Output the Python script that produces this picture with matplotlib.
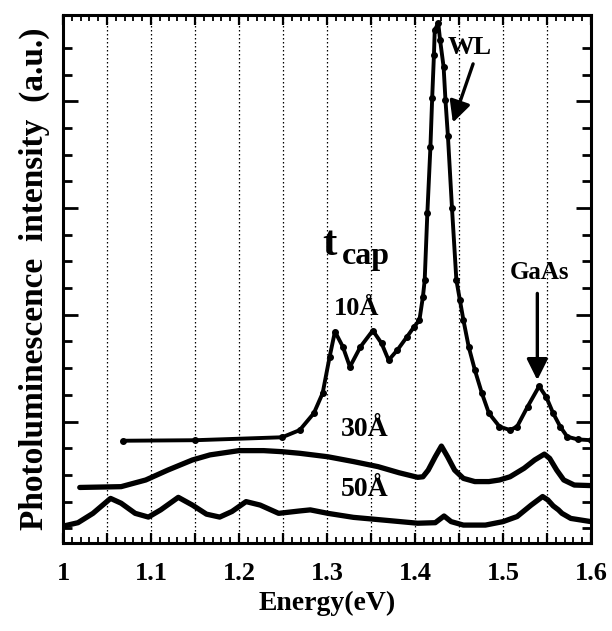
import matplotlib
matplotlib.use("Agg")
import matplotlib.pyplot as plt
from matplotlib.ticker import MultipleLocator, FixedLocator, FuncFormatter

plt.rcParams['font.family'] = ['Liberation Serif', 'DejaVu Serif']
plt.rcParams['font.weight'] = 'bold'

# PL spectra (energy in eV, intensity in a.u.)
e_10 = [1.068, 1.15, 1.249, 1.269, 1.285, 1.295, 1.303, 1.309, 1.318, 1.326,
        1.338, 1.352, 1.362, 1.370, 1.380, 1.391, 1.399, 1.405, 1.409, 1.411,
        1.414, 1.4175, 1.4195, 1.4215, 1.4224, 1.4264, 1.4285, 1.4325, 1.4346,
        1.4374, 1.442, 1.447, 1.451, 1.455, 1.461, 1.468, 1.476, 1.484, 1.496,
        1.508, 1.516, 1.528, 1.541, 1.549, 1.557, 1.565, 1.573, 1.585, 1.60]
i_10 = [3.28, 3.30, 3.41, 3.68, 4.31, 5.06, 6.43, 7.37, 6.80, 6.05,
        6.80, 7.41, 6.93, 6.30, 6.68, 7.18, 7.55, 7.80, 8.68, 9.30,
        11.8, 14.28, 16.12, 17.73, 18.66, 18.93, 18.29, 17.28, 16.04,
        14.69, 12.0, 9.30, 8.55, 7.80, 6.80, 5.93, 5.06, 4.31, 3.81,
        3.68, 3.81, 4.56, 5.32, 4.93, 4.31, 3.81, 3.43, 3.33, 3.30]

e_30 = [1.019, 1.066, 1.094, 1.119, 1.147, 1.167, 1.200, 1.228, 1.249, 1.269,
        1.301, 1.330, 1.358, 1.382, 1.403, 1.409, 1.415, 1.423, 1.430, 1.437,
        1.445, 1.455, 1.468, 1.484, 1.496, 1.508, 1.524, 1.536, 1.547, 1.553,
        1.561, 1.569, 1.581, 1.60]
i_30 = [1.53, 1.56, 1.81, 2.18, 2.56, 2.75, 2.91, 2.91, 2.87, 2.81,
        2.68, 2.50, 2.31, 2.08, 1.91, 1.93, 2.18, 2.68, 3.08, 2.68,
        2.18, 1.87, 1.75, 1.75, 1.81, 1.93, 2.25, 2.56, 2.78, 2.62,
        2.18, 1.81, 1.62, 1.60]

e_50 = [1.000, 1.017, 1.034, 1.054, 1.066, 1.082, 1.097, 1.111, 1.131, 1.147,
        1.163, 1.178, 1.192, 1.208, 1.224, 1.245, 1.269, 1.281, 1.301, 1.330,
        1.370, 1.403, 1.423, 1.433, 1.441, 1.455, 1.480, 1.500, 1.516, 1.532,
        1.545, 1.551, 1.557, 1.563, 1.567, 1.577, 1.60]
i_50 = [0.08, 0.21, 0.56, 1.12, 0.94, 0.56, 0.42, 0.69, 1.16, 0.87,
        0.53, 0.42, 0.63, 1.00, 0.87, 0.56, 0.65, 0.69, 0.56, 0.41,
        0.29, 0.19, 0.21, 0.46, 0.25, 0.12, 0.12, 0.25, 0.44, 0.87,
        1.19, 1.06, 0.84, 0.69, 0.56, 0.37, 0.25]

fig = plt.figure(figsize=(6.12, 6.31), dpi=100)
ax = fig.add_axes([0.103, 0.1395, 0.8627, 0.8367])

ax.plot(e_10, i_10, color='black', lw=2.8, marker='o', ms=4, solid_capstyle='round')
ax.plot(e_30, i_30, color='black', lw=3.8, solid_capstyle='round')
ax.plot(e_50, i_50, color='black', lw=3.8, solid_capstyle='round')

ax.set_xlim(1.0, 1.6)
ax.set_ylim(-0.55, 19.23)

# ticks
ax.xaxis.set_major_locator(MultipleLocator(0.05))
ax.xaxis.set_minor_locator(MultipleLocator(0.01))
def xfmt(v, pos):
    k = round(v * 20)
    if k % 2:
        return ''
    return '1' if abs(v - 1) < 1e-6 else '%.1f' % v
ax.xaxis.set_major_formatter(FuncFormatter(xfmt))
ax.yaxis.set_major_locator(FixedLocator([4, 8, 12, 16]))
ax.yaxis.set_minor_locator(FixedLocator([0, 1, 2, 3, 5, 6, 7, 9, 10, 11, 13, 14, 15, 17, 18]))
ax.tick_params(axis='both', which='both', direction='in', top=True, right=True, color='black')
ax.tick_params(axis='x', which='major', length=7, width=1.6, labelsize=19, pad=14)
ax.tick_params(axis='x', which='minor', length=4, width=1.3)
ax.tick_params(axis='y', which='major', length=11, width=2, labelleft=False)
ax.tick_params(axis='y', which='minor', length=6.5, width=2)
for lab in ax.get_xticklabels():
    lab.set_fontweight('bold')
for s in ax.spines.values():
    s.set_linewidth(2.2)

ax.grid(True, axis='x', which='major', linestyle=(0, (1.2, 2)), color='black', lw=0.9)

ax.set_xlabel('Energy(eV)', fontsize=20, fontweight='bold', labelpad=4)
ax.set_ylabel('Photoluminescence  intensity  (a.u.)', fontsize=24, fontweight='bold', labelpad=6)

# labels
ax.text(1.303, 10.6, 't', fontsize=31, fontweight='bold', ha='center', va='center')
ax.text(1.344, 10.2, 'cap', fontsize=23, fontweight='bold', ha='center', va='center')
ax.text(1.334, 8.25, '10Å', fontsize=19, fontweight='bold', ha='center', va='center')
ax.text(1.343, 3.72, '30Å', fontsize=20, fontweight='bold', ha='center', va='center')
ax.text(1.343, 1.47, '50Å', fontsize=20, fontweight='bold', ha='center', va='center')
ax.text(1.4625, 18.03, 'WL', fontsize=19, fontweight='bold', ha='center', va='center')
ax.text(1.542, 9.6, 'GaAs', fontsize=18, fontweight='bold', ha='center', va='center')

arrow = dict(arrowstyle='-|>', lw=2.4, color='black', mutation_scale=32, shrinkA=0, shrinkB=0)
ax.annotate('', xy=(1.443, 15.2), xytext=(1.466, 17.4), arrowprops=arrow)
ax.annotate('', xy=(1.539, 5.55), xytext=(1.539, 8.8), arrowprops=arrow)

fig.savefig('out.png', dpi=100)
